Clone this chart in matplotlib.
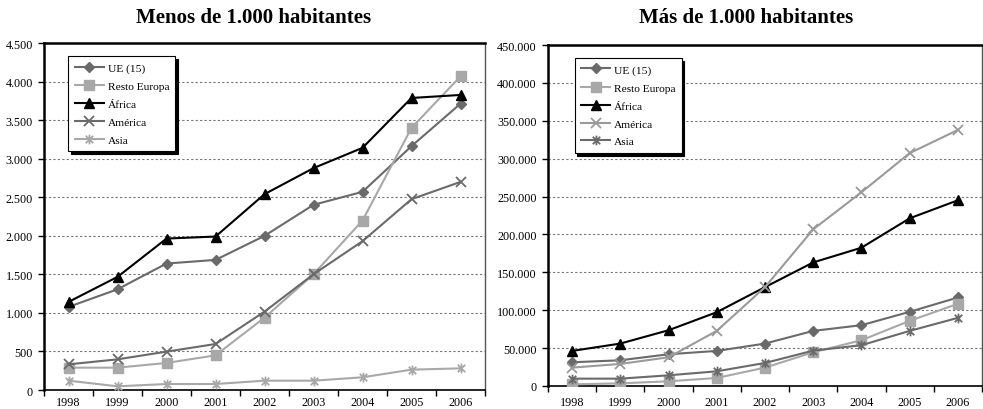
import matplotlib
matplotlib.use("Agg")
import matplotlib.pyplot as plt
from matplotlib.path import Path
from matplotlib.ticker import FuncFormatter, MultipleLocator
import numpy as np

plt.rcParams['font.family'] = ['Liberation Serif', 'DejaVu Serif']

years = ['1998', '1999', '2000', '2001', '2002', '2003', '2004', '2005', '2006']
series_names = ['UE (15)', 'Resto Europa', 'África', 'América', 'Asia']

# Menos de 1.000 habitantes
small_ue = [1078, 1307, 1641, 1688, 2000, 2403, 2571, 3164, 3715]
small_resto = [290, 290, 351, 450, 939, 1502, 2199, 3401, 4069]
small_africa = [1143, 1468, 1965, 1991, 2541, 2879, 3142, 3789, 3828]
small_america = [333, 398, 498, 597, 1017, 1502, 1931, 2476, 2700]
small_asia = [121, 48, 78, 78, 121, 121, 165, 264, 281]

# Más de 1.000 habitantes
big_ue = [31300, 33950, 41900, 46300, 56000, 72750, 80250, 97900, 116800]
big_resto = [2200, 3500, 6200, 10600, 24250, 44500, 60400, 86000, 108500]
big_africa = [46300, 56000, 73600, 97400, 130500, 163100, 182500, 221300, 245100]
big_america = [24250, 29100, 37900, 72750, 130500, 206800, 255700, 307300, 337900]
big_asia = [9700, 9700, 14100, 19400, 30400, 46700, 53800, 72750, 89900]

# Excel style asterisk: x plus vertical bar
star = Path([(-1, -1), (1, 1), (-1, 1), (1, -1), (0, -1.3), (0, 1.3)],
            [Path.MOVETO, Path.LINETO, Path.MOVETO, Path.LINETO, Path.MOVETO, Path.LINETO])

dark = '#6a6a6a'
light = '#a8a8a8'


def thousands(v, pos):
    return f"{int(v):,}".replace(',', '.')


def draw(ax, data, styles, ymax, ystep, xpad, legx):
    x = np.arange(len(years))
    for name, vals, (col, mk, ms, mew) in zip(series_names, data, styles):
        ax.plot(x, vals, color=col, lw=1.5, marker=mk, ms=ms, mew=mew,
                mfc=col, mec=col, label=name, zorder=3)
    ax.set_xlim(-0.5, len(years) - 0.5)
    ax.set_ylim(0, ymax)
    ax.set_xticks(x)
    ax.set_xticklabels(years)
    ax.set_xticks(np.arange(-0.5, len(years)), minor=True)
    ax.tick_params(axis='x', which='major', length=0, labelsize=8.7, pad=xpad)
    ax.tick_params(axis='x', which='minor', length=4, width=1, direction='out')
    ax.yaxis.set_major_locator(MultipleLocator(ystep))
    ax.yaxis.set_major_formatter(FuncFormatter(thousands))
    ax.tick_params(axis='y', length=4, width=1, labelsize=8.7, pad=4)
    ax.grid(axis='y', color='#777777', ls=(0, (2, 2)), lw=0.8)
    ax.set_axisbelow(True)
    for s in ['left', 'top']:
        ax.spines[s].set_linewidth(1.8)
        ax.spines[s].set_color('black')
    ax.spines['bottom'].set_linewidth(1.2)
    ax.spines['right'].set_linewidth(1.0)
    ax.spines['right'].set_color('#555555')
    leg = ax.legend(loc='upper left', bbox_to_anchor=(legx, 0.978), fontsize=8.2,
                    fancybox=False, framealpha=1, edgecolor='black',
                    shadow={'color': 'black', 'alpha': 1},
                    handlelength=2.6, borderpad=0.55, labelspacing=0.7,
                    handletextpad=0.3)
    leg.get_frame().set_linewidth(0.8)


fig = plt.figure(figsize=(9.83, 4.10), dpi=100)
ax1 = fig.add_axes([0.0448, 0.0463, 0.4486, 0.846])
ax2 = fig.add_axes([0.5575, 0.0561, 0.4415, 0.8317])

styles1 = [(dark, 'D', 5.5, 1), (light, 's', 7.5, 1), ('black', '^', 7.5, 1),
           (dark, 'x', 7, 1.3), (light, star, 7, 1.3)]
styles2 = [(dark, 'D', 5.5, 1), (light, 's', 7.5, 1), ('black', '^', 7.5, 1),
           ('#9a9a9a', 'x', 7, 1.3), (dark, star, 7, 1.3)]

draw(ax1, [small_ue, small_resto, small_africa, small_america, small_asia],
     styles1, 4500, 500, 4, 0.042)
draw(ax2, [big_ue, big_resto, big_africa, big_america, big_asia],
     styles2, 450000, 50000, 7, 0.048)

fig.text(0.258, 0.955, 'Menos de 1.000 habitantes', ha='center', va='center',
         fontsize=15, fontweight='bold')
fig.text(0.759, 0.955, 'Más de 1.000 habitantes', ha='center', va='center',
         fontsize=15, fontweight='bold')

fig.savefig('out.png', dpi=100)
